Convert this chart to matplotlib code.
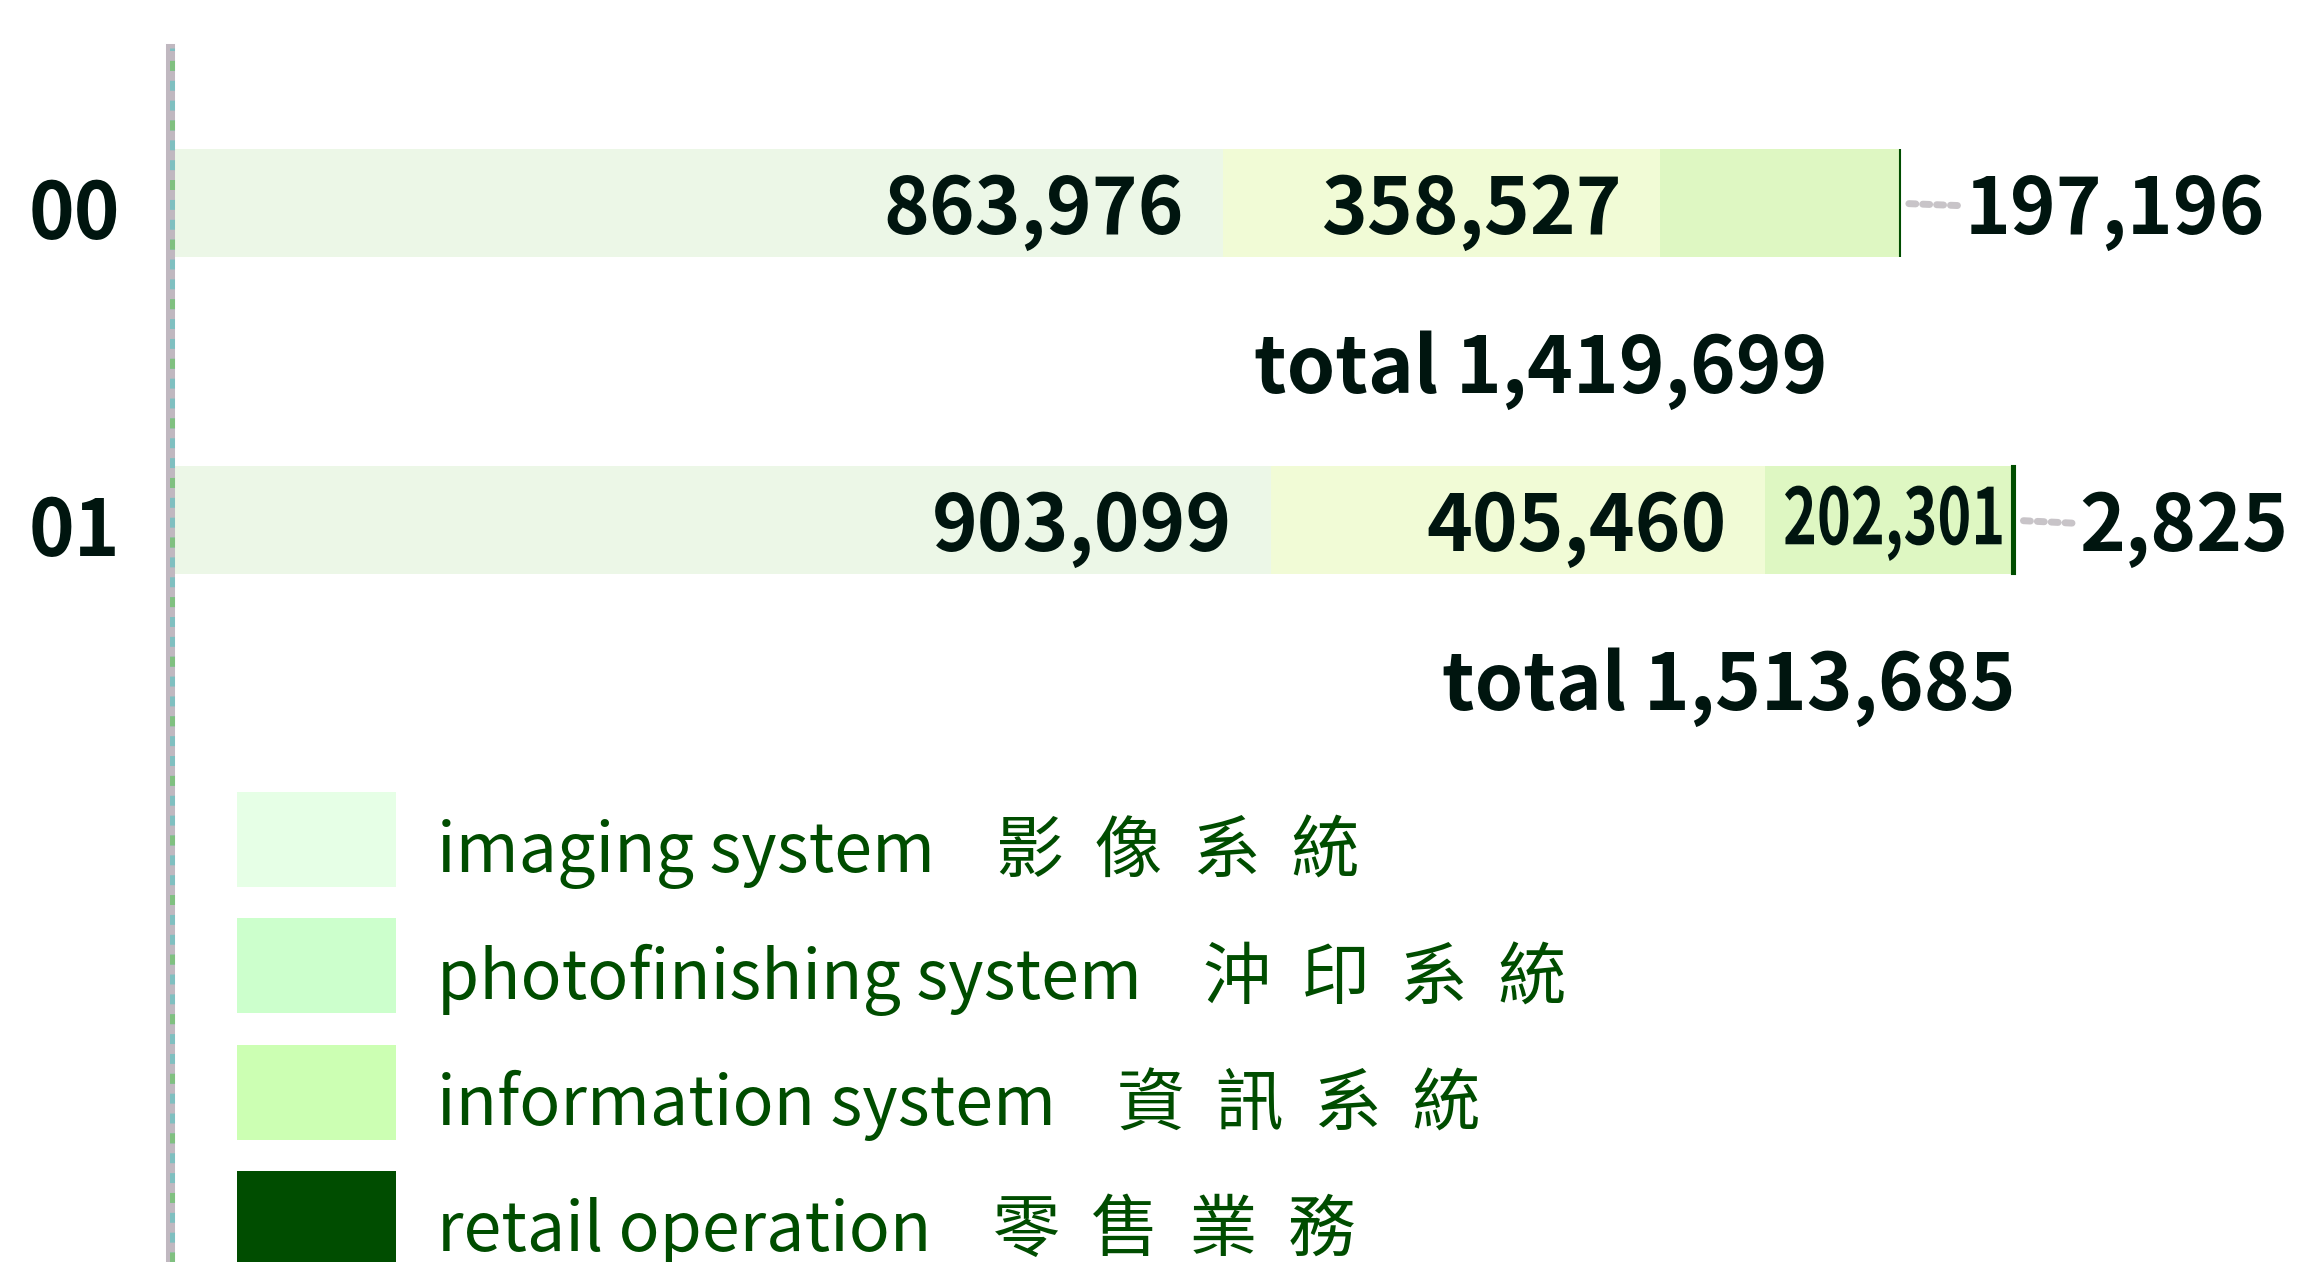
import matplotlib
matplotlib.use("Agg")
import matplotlib.pyplot as plt
from matplotlib.patches import Patch, PathPatch
from matplotlib.textpath import TextPath
from matplotlib.font_manager import FontProperties
from matplotlib.transforms import Affine2D, ScaledTranslation

plt.rcParams['font.family'] = ['Noto Sans CJK TC', 'DejaVu Sans']

# data
years = ["00", "01"]
segments = ["imaging system", "photofinishing system", "information system", "retail operation"]
segments_zh = ["影  像  系  統", "沖  印  系  統", "資  訊  系  統", "零  售  業  務"]
imaging = [863976, 903099]
photofinishing = [358527, 405460]
information = [197196, 202301]
retail = [0, 2825]

# styles
bar_colors = ["#ecf7e7", "#f1fbd6", "#def7c2", "#004d00"]
legend_colors = ["#e6ffe6", "#ccffcc", "#ccffb3", "#004d00"]
text_dark = "#00150f"
legend_text = "#004d00"
total_shift = [-60000, 0]
val_size = 56

fig = plt.figure(figsize=(22.97, 12.62), dpi=100)
ax = fig.add_axes([170 / 2297, 0, 1 - 170 / 2297, 1 - 48 / 1262])
ax.set_xlim(0, 1745000)
ax.set_ylim(3.34, -0.49)

series = [imaging, photofinishing, information, retail]
lefts = [0] * len(years)
for j, vals in enumerate(series):
    ax.barh(range(len(years)), vals, left=lefts, height=0.34,
            color=bar_colors[j], edgecolor=bar_colors[j] if j == 3 else 'none',
            linewidth=1.5)
    lefts = [l + v for l, v in zip(lefts, vals)]

fig.canvas.draw()
renderer = fig.canvas.get_renderer()
px_per_unit = ax.transData.transform((1, 0))[0] - ax.transData.transform((0, 0))[0]
fp_val = FontProperties(family='Noto Sans CJK TC', weight='bold', size=val_size)
dy = -6  # points, to centre the digits on the bar

for i in range(len(years)):
    vals = [s[i] for s in series]
    last = max(j for j, v in enumerate(vals) if v > 0)
    start = 0
    for j, v in enumerate(vals):
        if v == 0:
            continue
        end = start + v
        label = f"{v:,}"
        if j == last:
            ax.annotate(label, xy=(end, i), xytext=(46, dy), textcoords='offset points',
                        ha='left', va='center', fontsize=val_size, fontweight='bold',
                        color=text_dark,
                        arrowprops=dict(arrowstyle='-', linestyle=(0, (1, 1)), lw=5,
                                        color='#c8c4c8', shrinkA=3, shrinkB=4))
        else:
            t = ax.annotate(label, xy=(end, i), xytext=(-28, dy), textcoords='offset points',
                            ha='right', va='center', fontsize=val_size, fontweight='bold',
                            color=text_dark)
            seg_px = v * px_per_unit
            w = t.get_window_extent(renderer).width
            if w > seg_px - 30:
                # squeeze the label horizontally to fit in the segment
                t.remove()
                tp = TextPath((0, 0), label, prop=fp_val)
                ext = tp.get_extents()
                k = fig.dpi / 72
                sx = (seg_px - 30) / (ext.width * k)
                xe, ye = ax.transData.transform((end, i))
                tr = (Affine2D().translate(-ext.x1, -(ext.y0 + ext.y1) / 2)
                      .scale(sx * k, k).translate(xe - 10, ye - 3))
                ax.add_artist(PathPatch(tp, transform=tr, facecolor=text_dark,
                                        edgecolor='none'))
        start = end
    total = sum(vals)
    ax.annotate(f"total {total:,}", xy=(total + total_shift[i], i + 0.5),
                xytext=(0, dy), textcoords='offset points', ha='right', va='center',
                fontsize=val_size, fontweight='bold', color=text_dark)

ax.set_yticks(range(len(years)))
ax.set_yticklabels(years, fontsize=val_size, fontweight='bold', color=text_dark)
ax.tick_params(axis='y', length=0, pad=36)
for lab in ax.get_yticklabels():
    lab.set_transform(lab.get_transform() + ScaledTranslation(0, -3 / 72, fig.dpi_scale_trans))
ax.set_xticks([])
for s in ['top', 'right', 'bottom']:
    ax.spines[s].set_visible(False)
ax.spines['left'].set_color('#c0b8c0')
ax.spines['left'].set_linewidth(6.5)
ax.axvline(0, color='#7fbfc0', lw=6.5, ls=(0, (1.1, 1.1)), zorder=3)
ax.axvline(0, color='#80c080', lw=6.5, ls=(0, (1.1, 5.5)), zorder=3.1)

handles = [Patch(facecolor=c, edgecolor='none') for c in legend_colors]
labels = [f"{e}    {z}" for e, z in zip(segments, segments_zh)]
leg = ax.legend(handles, labels, loc='upper left', bbox_to_anchor=(237 / 2297, 1 - 792 / 1262),
                bbox_transform=fig.transFigure, frameon=False, fontsize=49,
                handlelength=2.34, handleheight=1.77, handletextpad=0.6,
                labelspacing=0.46, borderpad=0, borderaxespad=0)
for t in leg.get_texts():
    t.set_color(legend_text)
    t.set_position((0, -11))

fig.savefig("out.png", dpi=100)
